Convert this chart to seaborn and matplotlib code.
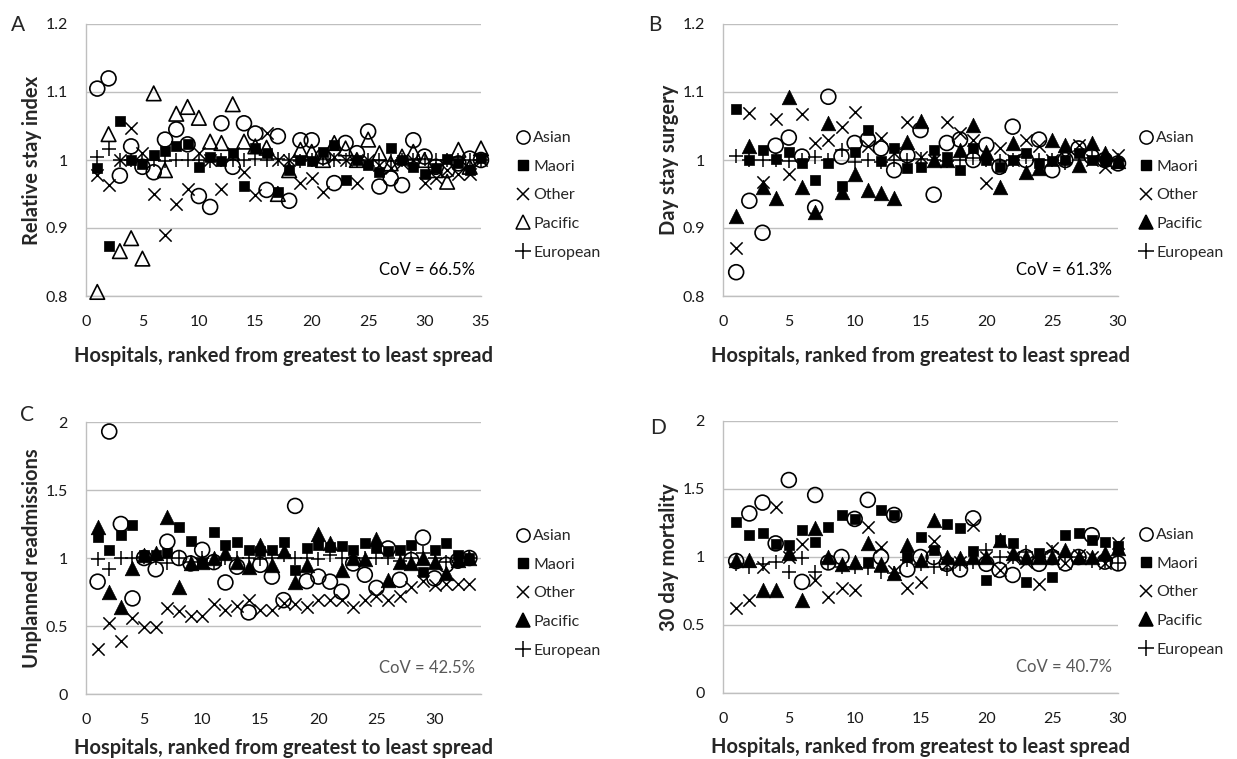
import matplotlib
matplotlib.use("Agg")
import matplotlib.pyplot as plt
from matplotlib.lines import Line2D
from matplotlib.ticker import FuncFormatter, MultipleLocator
import seaborn as sns
import pandas as pd

groups = ["Asian", "Maori", "Other", "Pacific", "European"]

# Panel A - relative stay index (35 hospitals)
asian_a = [1.105, 1.12, 0.977, 1.02, 0.99, 0.982, 1.03, 1.045, 1.023, 0.947, 0.931, 1.054,
           0.99, 1.054, 1.039, 0.956, 1.035, 0.94, 1.029, 1.029, 1.005, 0.966, 1.025, 1.01,
           1.042, 0.961, 0.973, 0.963, 1.029, 1.005, 0.99, 0.985, 0.995, 1.002, 1.0]
maori_a = [0.988, 0.873, 1.057, 1.0, 0.994, 1.008, 1.013, 1.02, 1.023, 0.99, 1.005, 0.999,
           1.011, 0.962, 1.017, 1.01, 0.953, 0.985, 1.0, 0.998, 1.012, 1.022, 0.971, 1.0,
           0.993, 0.983, 1.017, 1.0, 0.99, 0.98, 0.988, 1.002, 0.995, 0.985, 1.003]
other_a = [0.978, 0.963, 1.0, 1.047, 1.01, 0.95, 0.889, 0.936, 0.958, 1.01, 1.0, 0.957,
           1.01, 0.983, 0.948, 1.039, 1.0, 1.0, 0.966, 0.973, 0.953, 1.005, 1.0, 0.966,
           1.0, 0.993, 0.988, 0.995, 1.0, 0.966, 0.973, 0.985, 0.98, 0.98, 1.0]
pacific_a = [0.806, 1.038, 0.866, 0.885, 0.855, 1.098, 0.985, 1.068, 1.078, 1.062, 1.027, 1.025,
             1.082, 1.027, 1.02, 1.018, 0.95, 0.985, 1.015, 1.012, 1.0, 1.025, 1.017, 1.0,
             1.03, 1.01, 0.995, 1.005, 1.012, 1.0, 0.985, 0.968, 1.015, 0.99, 1.017]
european_a = [1.005, 1.016, 1.0, 1.0, 1.0, 1.0, 0.998, 1.0, 1.0, 1.0, 0.999, 1.0,
              1.0, 1.0, 1.002, 1.0, 1.002, 1.0, 0.998, 1.0, 1.002, 1.0, 1.0, 1.0,
              1.0, 1.0, 0.999, 1.0, 1.0, 1.002, 1.0, 1.0, 1.0, 1.0, 1.0]

# Panel B - day stay surgery (30 hospitals)
asian_b = [0.835, 0.94, 0.893, 1.021, 1.033, 1.005, 0.93, 1.093, 1.005, 1.025, 1.03, 1.017,
           0.985, 1.007, 1.044, 0.949, 1.025, 1.03, 1.0, 1.022, 0.99, 1.049, 1.0, 1.03,
           0.985, 1.0, 1.017, 1.005, 1.0, 0.995]
maori_b = [1.075, 1.0, 1.015, 1.002, 1.012, 0.996, 0.97, 0.995, 0.962, 1.012, 1.044, 0.998,
           1.017, 0.988, 0.99, 1.015, 1.005, 0.985, 1.017, 1.0, 0.99, 1.0, 1.01, 0.995,
           0.998, 1.0, 1.01, 1.0, 0.998, 0.995]
other_b = [0.871, 1.069, 0.968, 1.06, 0.98, 1.068, 1.025, 1.03, 1.049, 1.07, 1.02, 1.033,
           1.01, 1.056, 1.005, 1.0, 1.056, 1.039, 1.03, 0.966, 1.017, 1.0, 1.03, 1.02,
           1.0, 1.005, 1.022, 1.0, 0.99, 1.007]
pacific_b = [0.917, 1.02, 0.96, 0.944, 1.092, 0.961, 0.924, 1.055, 0.953, 0.98, 0.956, 0.951,
             0.944, 1.027, 1.058, 1.0, 1.0, 1.015, 1.052, 1.012, 0.961, 1.025, 0.983, 0.988,
             1.03, 1.022, 0.993, 1.025, 1.01, 0.998]
european_b = [1.006, 1.0, 1.0, 1.0, 0.998, 1.0, 1.005, 1.0, 1.015, 0.997, 1.0, 0.997,
              1.0, 1.0, 1.002, 1.0, 0.998, 1.0, 1.003, 1.0, 0.998, 1.0, 1.005, 1.0,
              1.0, 0.995, 1.0, 1.003, 0.998, 1.0]

# Panel C - unplanned readmissions (33 hospitals)
asian_c = [0.826, 1.93, 1.25, 0.703, 1.0, 0.917, 1.12, 1.0, 0.96, 1.06, 0.97, 0.82,
           0.936, 0.6, 0.95, 0.863, 0.69, 1.383, 0.83, 0.863, 0.826, 0.752, 0.96, 0.877,
           0.78, 1.07, 0.84, 0.985, 1.15, 0.85, 0.95, 0.98, 1.0]
maori_c = [1.157, 1.06, 1.169, 1.243, 1.022, 1.022, 1.035, 1.225, 1.127, 0.966, 1.194, 1.095,
           1.115, 1.06, 1.05, 1.06, 1.115, 0.914, 1.073, 1.095, 1.08, 1.086, 1.06, 1.11,
           1.07, 1.05, 1.06, 1.095, 0.9, 1.06, 1.11, 1.02, 1.0]
other_c = [0.33, 0.519, 0.39, 0.556, 0.495, 0.495, 0.63, 0.61, 0.57, 0.57, 0.66, 0.62,
           0.645, 0.69, 0.62, 0.62, 0.67, 0.66, 0.64, 0.69, 0.69, 0.69, 0.64, 0.69,
           0.72, 0.69, 0.72, 0.79, 0.83, 0.8, 0.81, 0.81, 0.81]
pacific_c = [1.23, 0.752, 0.643, 0.924, 1.02, 1.035, 1.3, 0.79, 0.96, 0.97, 1.0, 1.035,
             0.97, 0.936, 1.095, 0.95, 1.05, 0.826, 0.95, 1.18, 1.11, 0.914, 1.0, 0.99,
             1.14, 0.84, 0.97, 0.966, 1.0, 0.97, 0.89, 0.985, 1.0]
european_c = [0.99, 0.917, 1.0, 1.0, 1.01, 1.0, 0.966, 1.0, 0.97, 1.0, 0.966, 1.0,
              1.0, 1.0, 0.99, 1.0, 1.02, 1.0, 1.0, 0.99, 1.02, 1.0, 1.0, 1.0,
              1.0, 1.0, 0.98, 1.0, 1.035, 1.0, 0.97, 1.0, 1.0]

# Panel D - 30 day mortality (30 hospitals)
asian_d = [0.97, 1.32, 1.40, 1.1, 1.566, 0.817, 1.456, 0.96, 1.0, 1.28, 1.42, 1.0,
           1.309, 0.909, 1.0, 1.0, 0.95, 0.909, 1.284, 0.95, 0.905, 0.868, 1.0, 0.95,
           1.0, 0.953, 1.0, 1.16, 0.966, 0.953]
maori_d = [1.26, 1.163, 1.18, 1.096, 1.09, 1.199, 1.113, 1.22, 1.309, 1.277, 0.966, 1.345,
           1.309, 1.0, 1.144, 1.05, 1.243, 1.21, 1.046, 0.83, 1.124, 1.1, 0.817, 1.027,
           0.855, 1.16, 1.176, 1.125, 1.113, 1.08]
other_d = [0.628, 0.684, 0.93, 1.37, 1.0, 1.096, 0.831, 0.709, 0.77, 0.757, 1.22, 1.076,
           0.9, 0.77, 0.817, 1.12, 0.95, 0.96, 1.235, 1.0, 0.905, 1.0, 0.966, 0.8,
           1.064, 0.953, 1.016, 1.0, 0.953, 1.1]
pacific_d = [0.98, 0.977, 0.757, 0.757, 1.03, 0.684, 1.21, 1.0, 0.95, 0.96, 1.1, 0.95,
             0.88, 1.088, 0.98, 1.27, 1.0, 0.99, 1.0, 1.0, 1.124, 1.027, 1.0, 1.0,
             1.0, 1.05, 1.0, 1.0, 1.027, 1.064]
european_d = [0.95, 0.93, 0.95, 0.965, 0.891, 0.99, 0.89, 0.96, 0.93, 0.93, 0.92, 0.89,
              0.88, 0.98, 0.95, 0.93, 0.915, 0.95, 0.965, 1.05, 1.0, 1.0, 1.04, 1.0,
              1.04, 1.0, 1.0, 0.97, 0.97, 0.953]

sns.set_style("white")
plt.rcParams["font.family"] = ["Lato", "DejaVu Sans"]

GRID = "#BFBFBF"
W, H = 1237, 759
fig = plt.figure(figsize=(W / 100, H / 100), dpi=100)


def add_ax(l, t, r, b):
    return fig.add_axes([l / W, 1 - b / H, (r - l) / W, (b - t) / H])


def marker_style(name, pacific_filled):
    if name == "Asian":
        return dict(marker="o", s=115, facecolor="none", edgecolor="black", linewidth=1.2)
    if name == "Maori":
        return dict(marker="s", s=52, color="black", edgecolor="black", linewidth=0.5)
    if name == "Other":
        return dict(marker="x", s=78, color="black", linewidth=1.1)
    if name == "Pacific":
        if pacific_filled:
            return dict(marker="^", s=110, color="black", edgecolor="black", linewidth=0.5)
        return dict(marker="^", s=110, facecolor="none", edgecolor="black", linewidth=1.2)
    return dict(marker="+", s=100, color="black", linewidth=1.1)


def legend_handle(name, pacific_filled):
    if name == "Asian":
        return Line2D([], [], ls="", marker="o", ms=9.5, mfc="none", mec="black", mew=1.1)
    if name == "Maori":
        return Line2D([], [], ls="", marker="s", ms=7, mfc="black", mec="black")
    if name == "Other":
        return Line2D([], [], ls="", marker="x", ms=9, mec="black", mew=1.1)
    if name == "Pacific":
        return Line2D([], [], ls="", marker="^", ms=9.5, mfc="black" if pacific_filled else "none",
                      mec="black", mew=1.1)
    return Line2D([], [], ls="", marker="+", ms=11, mec="black", mew=1.1)


def draw(ax, series, xmax, ylim, ystep, ylabel, cov, cov_color, pacific_filled, leg_x, xlab_y):
    for name, vals in zip(groups, series):
        df = pd.DataFrame({"hospital": range(1, len(vals) + 1), "value": vals})
        sns.scatterplot(data=df, x="hospital", y="value", ax=ax, legend=False,
                        zorder=3, clip_on=False, **marker_style(name, pacific_filled))
    ax.set_xlim(0, xmax)
    ax.set_ylim(*ylim)
    ax.xaxis.set_major_locator(MultipleLocator(5))
    ax.yaxis.set_major_locator(MultipleLocator(ystep))
    ax.yaxis.set_major_formatter(FuncFormatter(lambda v, p: f"{v:g}"))
    ax.grid(axis="y", color=GRID, lw=1.0)
    ax.grid(axis="x", visible=False)
    ax.set_axisbelow(True)
    for side in ["top", "right"]:
        ax.spines[side].set_visible(False)
    for side in ["left", "bottom"]:
        ax.spines[side].set_color(GRID)
        ax.spines[side].set_linewidth(1.0)
    ax.tick_params(length=0, labelsize=11.5, colors="#1a1a1a")
    ax.tick_params(axis="y", pad=13)
    ax.tick_params(axis="x", pad=14)
    ax.set_xlabel("Hospitals, ranked from greatest to least spread", fontsize=14.5,
                  fontweight="bold", va="center")
    ax.set_ylabel(ylabel, fontsize=14.5, fontweight="bold")
    ax.xaxis.set_label_coords(0.5, xlab_y)
    ax.yaxis.set_label_coords(-0.112, 0.5)
    ax.text(0.985, 0.096, f"CoV = {cov}", transform=ax.transAxes, ha="right", va="center",
            fontsize=12, color=cov_color)
    handles = [legend_handle(n, pacific_filled) for n in groups]
    ax.legend(handles, groups, loc="center left", bbox_to_anchor=(leg_x, 0.37), frameon=False,
              fontsize=11.5, handlelength=1.0, handletextpad=0.15, labelspacing=0.9,
              borderpad=0, borderaxespad=0)


ax_a = add_ax(86, 24, 481, 296)
ax_b = add_ax(723, 24, 1118, 296)
ax_c = add_ax(86, 422, 481, 694)
ax_d = add_ax(723, 421, 1118, 693)

draw(ax_a, [asian_a, maori_a, other_a, pacific_a, european_a], 35, (0.8, 1.2), 0.1,
     "Relative stay index", "66.5%", "black", False, 1.086, -0.222)
draw(ax_b, [asian_b, maori_b, other_b, pacific_b, european_b], 30, (0.8, 1.2), 0.1,
     "Day stay surgery", "61.3%", "black", True, 1.05, -0.222)
draw(ax_c, [asian_c, maori_c, other_c, pacific_c, european_c], 34, (0, 2), 0.5,
     "Unplanned readmissions", "42.5%", "#595959", True, 1.086, -0.197)
draw(ax_d, [asian_d, maori_d, other_d, pacific_d, european_d], 30, (0, 2), 0.5,
     "30 day mortality", "40.7%", "#595959", True, 1.05, -0.197)

for letter, x, y in [("A", 18, 25), ("B", 655, 25), ("C", 27, 415), ("D", 658, 428)]:
    fig.text(x / W, 1 - y / H, letter, fontsize=15, ha="center", va="center")

fig.savefig("out.png", dpi=100)
